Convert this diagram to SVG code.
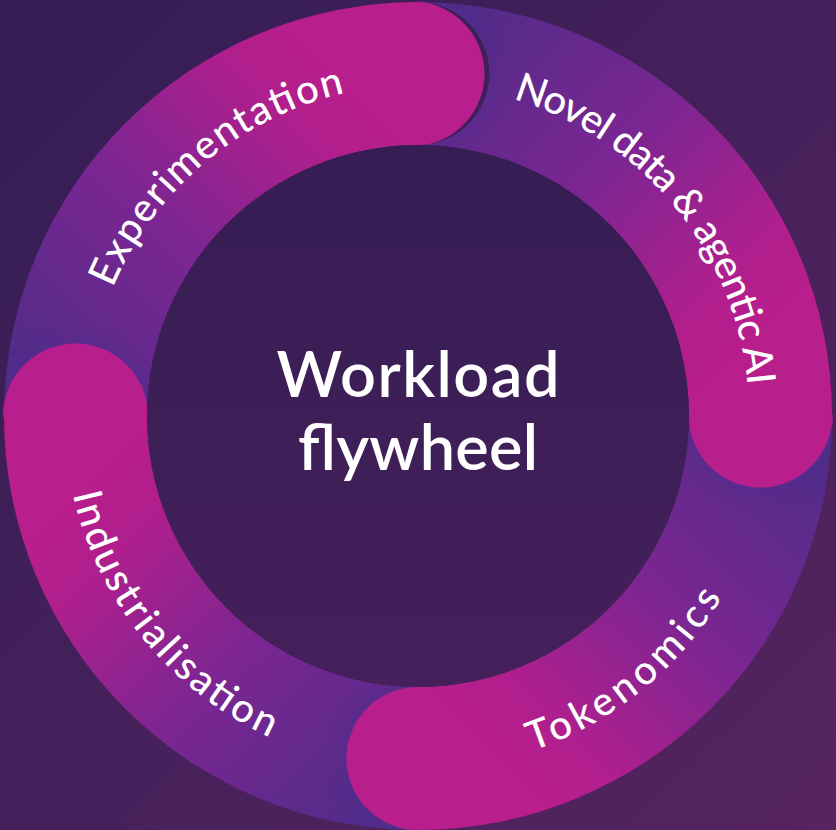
<svg xmlns="http://www.w3.org/2000/svg" width="836" height="830" viewBox="0 0 836 830">
  <style>
    .lbl { font-family: Lato, "Open Sans", "Liberation Sans", sans-serif; font-weight: 500; font-size: 40px; fill: #ffffff; }
    .ctr { font-family: Lato, "Open Sans", "Liberation Sans", sans-serif; font-weight: 600; font-size: 63px; fill: #ffffff; text-anchor: middle; }
    .cap { fill: #b81e8c; }
    .halo { fill: #42318f; opacity: 0.6; filter: url(#blur); }
  </style>
  <defs>
    <linearGradient id="bgGrad" x1="0" y1="0" x2="1" y2="1">
      <stop offset="0" stop-color="#341d55"/>
      <stop offset="1" stop-color="#56245f"/>
    </linearGradient>
    <linearGradient id="innerGrad" x1="0" y1="0" x2="0" y2="1">
      <stop offset="0" stop-color="#361d53"/>
      <stop offset="1" stop-color="#45205b"/>
    </linearGradient>
    <linearGradient id="gN" gradientUnits="userSpaceOnUse" x1="418" y1="73.5" x2="760.5" y2="416">
      <stop offset="0" stop-color="#532c8a"/>
      <stop offset="0.4" stop-color="#7a2692"/>
      <stop offset="0.75" stop-color="#b01f8d"/>
      <stop offset="0.88" stop-color="#b81e8c"/>
    </linearGradient>
    <linearGradient id="gT" gradientUnits="userSpaceOnUse" x1="760.5" y1="416" x2="418" y2="758.5">
      <stop offset="0" stop-color="#532c8a"/>
      <stop offset="0.4" stop-color="#7a2692"/>
      <stop offset="0.75" stop-color="#b01f8d"/>
      <stop offset="0.88" stop-color="#b81e8c"/>
    </linearGradient>
    <linearGradient id="gI" gradientUnits="userSpaceOnUse" x1="418" y1="758.5" x2="75.5" y2="416">
      <stop offset="0" stop-color="#532c8a"/>
      <stop offset="0.4" stop-color="#7a2692"/>
      <stop offset="0.75" stop-color="#b01f8d"/>
      <stop offset="0.88" stop-color="#b81e8c"/>
    </linearGradient>
    <linearGradient id="gE" gradientUnits="userSpaceOnUse" x1="75.5" y1="416" x2="418" y2="73.5">
      <stop offset="0" stop-color="#532c8a"/>
      <stop offset="0.4" stop-color="#7a2692"/>
      <stop offset="0.75" stop-color="#b01f8d"/>
      <stop offset="0.88" stop-color="#b81e8c"/>
    </linearGradient>
    <filter id="blur" x="-40%" y="-40%" width="180%" height="180%">
      <feGaussianBlur stdDeviation="10"/>
    </filter>
    <clipPath id="clipN"><path clip-rule="evenodd" d="M418,2 A414,414 0 0 1 832,416 L689,416 A271,271 0 0 0 418,145 Z M418,0.5 A73,73 0 0 1 418,146.5 Z"/></clipPath>
    <clipPath id="clipT"><path clip-rule="evenodd" d="M832,416 A414,414 0 0 1 418,830 L418,687 A271,271 0 0 0 689,416 Z M833.5,416 A73,73 0 0 1 687.5,416 Z"/></clipPath>
    <clipPath id="clipI"><path clip-rule="evenodd" d="M418,830 A414,414 0 0 1 4,416 L147,416 A271,271 0 0 0 418,687 Z M418,831.5 A73,73 0 0 1 418,685.5 Z"/></clipPath>
    <clipPath id="clipE"><path clip-rule="evenodd" d="M4,416 A414,414 0 0 1 418,2 L418,145 A271,271 0 0 0 147,416 Z M2.5,416 A73,73 0 0 1 148.5,416 Z"/></clipPath>
    <path id="pE" d="M92.0,358.5 A331,331 0 0 1 418,85"/>
    <path id="pN" d="M479.5,90.8 A331,331 0 0 1 749.0,420.0"/>
    <path id="pT" d="M411.8,769.9 A354,354 0 0 0 765.5,483.5"/>
    <path id="pI" d="M64.1,409.8 A354,354 0 0 0 350.5,763.5"/>
  </defs>

  <rect id="background" x="0" y="0" width="836" height="830" fill="url(#bgGrad)"/>

  <g id="node-experimentation">
    <path fill="url(#gE)" fill-rule="evenodd" d="M4,416 A414,414 0 0 1 418,2 L418,145 A271,271 0 0 0 147,416 Z M4,416 A71.5,71.5 0 0 1 147,416 Z"/>
    <path class="halo" d="M4,417 A72,72 0 0 1 148,417 Z" clip-path="url(#clipE)"/>
    <path class="cap" d="M417,1.5 L418,1.5 A72.5,72.5 0 0 1 418,146 L417,146 Z"/>
    <text class="lbl"><textPath href="#pE" startOffset="50%" text-anchor="middle" textLength="315" lengthAdjust="spacing">Experimentation</textPath></text>
  </g>
  <g id="node-novel-data">
    <path fill="url(#gN)" fill-rule="evenodd" d="M418,2 A414,414 0 0 1 832,416 L689,416 A271,271 0 0 0 418,145 Z M418,2 A71.5,71.5 0 0 1 418,145 Z"/>
    <path class="halo" d="M417,2 A72,72 0 0 1 417,146 Z" clip-path="url(#clipN)"/>
    <path class="cap" d="M833,415 L833,416 A72.5,72.5 0 0 1 688,416 L688,415 Z"/>
    <text class="lbl"><textPath href="#pN" startOffset="50%" text-anchor="middle" textLength="393" lengthAdjust="spacing">Novel data &amp; agentic AI</textPath></text>
  </g>
  <g id="node-tokenomics">
    <path fill="url(#gT)" fill-rule="evenodd" d="M832,416 A414,414 0 0 1 418,830 L418,687 A271,271 0 0 0 689,416 Z M832,416 A71.5,71.5 0 0 1 689,416 Z"/>
    <path class="halo" d="M832,415 A72,72 0 0 1 688,415 Z" clip-path="url(#clipT)"/>
    <path class="cap" d="M419,831 L418,831 A72.5,72.5 0 0 1 418,686 L419,686 Z"/>
    <text class="lbl"><textPath href="#pT" startOffset="50%" text-anchor="middle" textLength="249" lengthAdjust="spacing">Tokenomics</textPath></text>
  </g>
  <g id="node-industrialisation">
    <path fill="url(#gI)" fill-rule="evenodd" d="M418,830 A414,414 0 0 1 4,416 L147,416 A271,271 0 0 0 418,687 Z M418,830 A71.5,71.5 0 0 1 418,687 Z"/>
    <path class="halo" d="M419,830 A72,72 0 0 1 419,686 Z" clip-path="url(#clipI)"/>
    <path class="cap" d="M3,417 L3,416 A72.5,72.5 0 0 1 148,416 L148,417 Z"/>
    <text class="lbl"><textPath href="#pI" startOffset="50%" text-anchor="middle" textLength="324" lengthAdjust="spacing">Industrialisation</textPath></text>
  </g>

  <g id="node-center">
    <circle cx="418" cy="416" r="271" fill="url(#innerGrad)"/>
    <text class="ctr" x="418" y="397" textLength="283" lengthAdjust="spacing">Workload</text>
    <text class="ctr" x="418" y="470" textLength="240" lengthAdjust="spacing">flywheel</text>
  </g>
</svg>
